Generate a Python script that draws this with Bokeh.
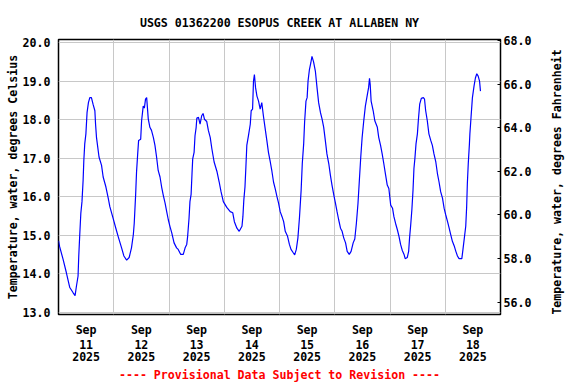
import math
from bokeh.plotting import figure
from bokeh.models import LinearAxis, Range1d, FixedTicker, PrintfTickFormatter, Label
from bokeh.embed import file_html
from bokeh.resources import INLINE

# hours since 2025-09-11 00:00
hours = [0.0, 0.5, 2.0, 3.4, 4.9, 6.3, 7.2, 7.8, 8.5, 8.8, 9.2, 9.7, 10.2, 10.7, 11.0, 11.4, 11.9, 12.4, 13.0, 13.6,
         14.3, 15.0, 15.8, 16.1, 16.5, 17.6, 18.7, 19.4, 20.6, 21.6, 22.3, 23.7, 24.9, 25.9, 27.4, 28.4, 29.6, 30.7,
         31.7, 32.5, 32.9, 33.5, 33.9, 34.4, 34.8, 35.7, 36.1, 36.8, 37.3, 37.8, 38.3, 38.6, 39.0, 39.7, 40.4, 41.2,
         41.9, 42.6, 43.3, 44.1, 44.8, 45.5, 46.3, 47.0, 47.7, 48.4, 49.2, 50.2, 51.3, 52.0, 53.1, 54.2, 55.0, 55.7,
         56.1, 56.7, 57.1, 57.6, 58.0, 58.3, 58.9, 59.3, 59.8, 60.1, 60.8, 61.5, 62.2, 62.8, 63.4, 64.4, 65.1, 65.9,
         66.6, 67.6, 68.8, 69.8, 70.6, 71.6, 73.1, 74.6, 75.7, 76.4, 77.5, 78.5, 79.7, 80.1, 80.5, 81.0, 81.4, 81.8,
         82.5, 83.3, 83.7, 84.3, 84.7, 85.1, 85.6, 86.2, 86.9, 87.6, 88.3, 89.0, 89.7, 90.5, 91.2, 92.0, 92.7, 93.4,
         94.2, 94.9, 95.6, 96.3, 97.1, 97.8, 98.5, 99.5, 100.3, 101.0, 101.9, 102.6, 103.3, 104.0, 104.7, 105.4,
         105.9, 106.5, 106.9, 107.5, 108.0, 108.4, 109.0, 109.6, 110.1, 110.8, 111.6, 112.3, 113.0, 113.8, 114.5,
         115.2, 115.9, 116.6, 117.4, 118.1, 118.8, 119.6, 120.3, 121.0, 121.7, 122.5, 123.2, 123.9, 124.7, 125.4,
         126.3, 127.1, 128.0, 128.7, 129.4, 130.1, 130.7, 131.3, 131.9, 132.6, 133.3, 134.2, 134.7, 135.1, 135.4,
         135.8, 136.7, 137.4, 138.5, 139.1, 139.9, 140.6, 141.3, 142.1, 142.8, 143.5, 144.3, 145.1, 145.7, 146.4,
         147.2, 147.9, 148.6, 149.3, 150.1, 150.6, 151.5, 152.1, 152.5, 153.0, 153.5, 154.0, 154.4, 154.8, 155.3,
         155.9, 156.3, 156.9, 157.6, 158.5, 159.0, 159.5, 160.2, 160.9, 161.7, 162.4, 163.1, 163.9, 164.6, 165.3,
         166.0, 166.8, 167.5, 168.2, 169.0, 169.7, 170.4, 171.1, 171.9, 172.6, 173.3, 174.0, 175.2, 175.7, 176.3,
         176.9, 177.3, 177.6, 178.0, 178.5, 178.7, 179.2, 179.8, 180.5, 181.1, 181.7, 182.3, 182.9, 183.3]
temp_c = [14.85, 14.70, 14.37, 14.03, 13.64, 13.51, 13.43, 13.68, 13.94, 14.46, 14.97, 15.57, 15.87, 16.43, 16.94,
          17.37, 17.63, 18.18, 18.44, 18.57, 18.57, 18.40, 18.23, 17.88, 17.54, 17.03, 16.81, 16.51, 16.25, 15.96,
          15.74, 15.44, 15.18, 14.97, 14.67, 14.46, 14.35, 14.42, 14.67, 15.01, 15.31, 16.04, 16.64, 17.11, 17.46,
          17.49, 17.97, 18.35, 18.30, 18.53, 18.57, 18.33, 18.01, 17.80, 17.72, 17.54, 17.33, 17.03, 16.68, 16.51,
          16.25, 16.04, 15.83, 15.61, 15.40, 15.23, 15.06, 14.80, 14.67, 14.63, 14.50, 14.50, 14.67, 14.76, 14.97,
          15.44, 15.87, 16.06, 16.60, 16.98, 17.15, 17.58, 17.80, 18.04, 18.06, 17.88, 18.10, 18.16, 18.01, 17.95,
          17.72, 17.54, 17.25, 16.90, 16.66, 16.38, 16.13, 15.87, 15.72, 15.61, 15.58, 15.35, 15.18, 15.10, 15.23,
          15.48, 15.91, 16.25, 16.77, 17.33, 17.58, 17.88, 18.23, 18.27, 19.00, 19.17, 18.83, 18.61, 18.48, 18.27,
          18.44, 18.10, 17.80, 17.46, 17.15, 16.90, 16.66, 16.38, 16.19, 16.00, 15.83, 15.61, 15.48, 15.35, 15.10,
          14.97, 14.76, 14.63, 14.55, 14.49, 14.63, 14.93, 15.48, 16.17, 16.86, 17.37, 17.93, 18.48, 18.57, 19.00,
          19.30, 19.47, 19.64, 19.50, 19.25, 18.83, 18.44, 18.18, 18.01, 17.80, 17.46, 17.11, 16.86, 16.56, 16.30,
          16.04, 15.83, 15.61, 15.40, 15.18, 15.10, 14.93, 14.80, 14.58, 14.50, 14.58, 14.80, 14.90, 15.31, 15.83,
          16.43, 17.03, 17.54, 17.97, 18.35, 18.66, 18.83, 19.07, 18.91, 18.48, 18.23, 17.97, 17.80, 17.54, 17.33,
          17.11, 16.86, 16.56, 16.30, 16.21, 15.78, 15.70, 15.48, 15.31, 15.14, 14.97, 14.76, 14.61, 14.50, 14.39,
          14.42, 14.58, 14.93, 15.27, 15.66, 16.17, 16.73, 16.98, 17.37, 17.63, 17.97, 18.40, 18.55, 18.57, 18.53,
          18.23, 17.97, 17.63, 17.46, 17.33, 17.11, 16.90, 16.60, 16.38, 16.13, 15.96, 15.70, 15.53, 15.35, 15.18,
          15.01, 14.84, 14.72, 14.58, 14.46, 14.39, 14.39, 14.63, 14.93, 15.23, 15.74, 16.34, 16.86, 17.37, 17.63,
          18.06, 18.57, 18.87, 19.08, 19.19, 19.13, 19.00, 18.74]

day_tick_hours = [12, 36, 60, 84, 108, 132, 156, 180]
month_labels = ["Sep"] * 8
day_labels = ["11", "12", "13", "14", "15", "16", "17", "18"]
year_labels = ["2025"] * 8
midnight_hours = [24, 48, 72, 96, 120, 144, 168]
celsius_ticks = [13, 14, 15, 16, 17, 18, 19, 20]
fahrenheit_ticks = [56, 58, 60, 62, 64, 66, 68]

title_text = "USGS 01362200 ESOPUS CREEK AT ALLABEN NY"
footer_text = "---- Provisional Data Subject to Revision ----"
left_label = "Temperature, water, degrees Celsius"
right_label = "Temperature, water, degrees Fahrenheit"

FONT = "DejaVu Sans Mono"
FS = "11.6px"

p = figure(width=576, height=384, output_backend="svg", toolbar_location=None,
           x_range=Range1d(0, 192), y_range=Range1d(12.94, 20.08),
           min_border_left=58, min_border_right=76, min_border_top=39, min_border_bottom=68)

p.title.text = title_text
p.title.align = "center"
p.title.text_font = FONT
p.title.text_font_size = FS
p.title.text_font_style = "bold"
p.title.text_color = "black"
p.title.standoff = 20

p.outline_line_color = "black"
p.outline_line_width = 1.5
p.background_fill_color = "white"
p.border_fill_color = "white"

p.line(hours, temp_c, line_color="#0000FF", line_width=1.2)


def style_text_axis(ax):
    ax.major_tick_line_color = None
    ax.minor_tick_line_color = None
    ax.major_tick_out = 0
    ax.major_tick_in = 0
    ax.minor_tick_out = 0
    ax.minor_tick_in = 0
    ax.axis_line_color = None
    ax.axis_label_standoff = 0
    ax.major_label_text_font = FONT
    ax.major_label_text_font_size = FS
    ax.major_label_text_font_style = "bold"
    ax.major_label_text_color = "black"
    ax.axis_label_text_font = FONT
    ax.axis_label_text_font_size = FS
    ax.axis_label_text_font_style = "bold"
    ax.axis_label_text_color = "black"


# bottom axes: three stacked label rows
xa = p.xaxis[0]
style_text_axis(xa)
xa.ticker = FixedTicker(ticks=day_tick_hours)
xa.major_label_overrides = {h: s for h, s in zip(day_tick_hours, month_labels)}
xa.major_label_standoff = 8

xa2 = LinearAxis(ticker=FixedTicker(ticks=day_tick_hours))
style_text_axis(xa2)
xa2.major_label_overrides = {h: s for h, s in zip(day_tick_hours, day_labels)}
xa2.major_label_standoff = 0
p.add_layout(xa2, "below")

xa3 = LinearAxis(ticker=FixedTicker(ticks=day_tick_hours))
style_text_axis(xa3)
xa3.major_label_overrides = {h: s for h, s in zip(day_tick_hours, year_labels)}
xa3.major_label_standoff = 0
xa3.axis_label = footer_text
xa3.axis_label_text_color = "#FF0000"
xa3.axis_label_standoff = 4
p.add_layout(xa3, "below")

# left axis
ya = p.yaxis[0]
style_text_axis(ya)
ya.ticker = FixedTicker(ticks=celsius_ticks)
ya.formatter = PrintfTickFormatter(format="%.1f")
ya.major_label_standoff = 8
ya.axis_label = left_label
ya.axis_label_standoff = 0

# right axis (Fahrenheit)
p.extra_y_ranges = {"F": Range1d(55.44, 68.04)}
ra = LinearAxis(y_range_name="F", ticker=FixedTicker(ticks=fahrenheit_ticks),
                formatter=PrintfTickFormatter(format="%.1f"))
style_text_axis(ra)
ra.major_tick_in = 3
ra.major_tick_out = 0
ra.major_tick_line_color = "black"
ra.major_label_standoff = 3
p.add_layout(ra, "right")

# right-hand axis title, reading bottom to top, in its own side panel (not clipped)
rlab = Label(x=556, y=181.5, x_units="canvas", y_units="canvas", text=right_label,
             angle=math.pi / 2, text_align="center", text_baseline="middle",
             text_font=FONT, text_font_size=FS, text_font_style="bold",
             text_color="black")
p.add_layout(rlab, "right")

# grids
p.xgrid.ticker = FixedTicker(ticks=midnight_hours)
p.ygrid.ticker = FixedTicker(ticks=celsius_ticks)
p.xgrid.grid_line_color = "#C8C8C8"
p.ygrid.grid_line_color = "#C8C8C8"
p.xgrid.grid_line_width = 1
p.ygrid.grid_line_width = 1

open("out.html", "w").write(file_html(p, INLINE))
